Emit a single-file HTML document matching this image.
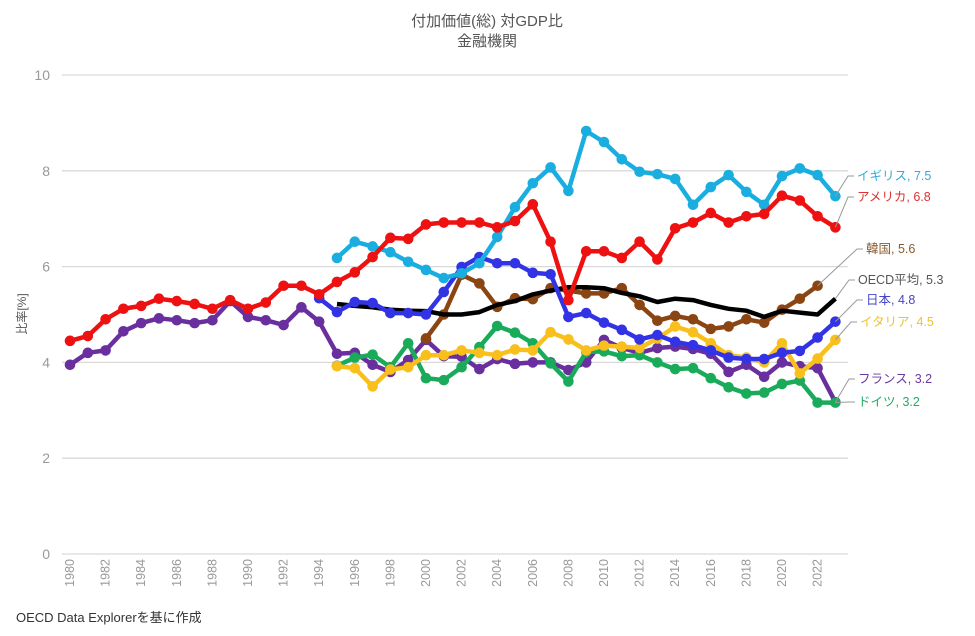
<!DOCTYPE html>
<html><head><meta charset="utf-8"><style>
body{margin:0;background:#fff;}
svg{display:block;font-family:"Liberation Sans","Noto Sans CJK JP",sans-serif;}
</style></head><body>
<svg id="c" width="975" height="636" viewBox="0 0 975 636" xmlns="http://www.w3.org/2000/svg">
<text x="487" y="26" text-anchor="middle" font-size="15" fill="#555">付加価値(総) 対GDP比</text>
<text x="487" y="46" text-anchor="middle" font-size="15" fill="#555">金融機関</text>
<text x="26" y="314" text-anchor="middle" font-size="12" fill="#555" transform="rotate(-90 26 314)">比率[%]</text>
<text x="16" y="622" font-size="13" fill="#333">OECD Data Explorerを基に作成</text>
<g id="g"></g>
</svg>
<script>
var NS="http://www.w3.org/2000/svg",g=document.getElementById('g');
function X(y){return 70+(y-1980)*17.8}
function Y(v){return 554-v*47.9}
function el(t,a,txt){var e=document.createElementNS(NS,t);for(var k in a)e.setAttribute(k,a[k]);if(txt)e.textContent=txt;g.appendChild(e);return e}
for(var i=0;i<=5;i++){var yy=Y(i*2);el('line',{x1:62,x2:848,y1:yy,y2:yy,stroke:'#d9d9d9','stroke-width':1.3});el('text',{x:50,y:yy+5,'text-anchor':'end','font-size':14,fill:'#999'},String(i*2));}
for(var y=1980;y<=2022;y+=2){var x=X(y)+4;el('text',{x:0,y:0,'font-size':12.5,fill:'#999','text-anchor':'end',transform:'translate('+x+',559) rotate(-90)'},String(y));}
var S=[
['#6a2f9e',1980,[3.95,4.2,4.25,4.65,4.82,4.92,4.88,4.82,4.88,5.28,4.95,4.88,4.78,5.15,4.85,4.18,4.2,3.95,3.8,4.05,4.47,4.13,4.12,3.86,4.07,3.97,4.0,4.0,3.84,4.0,4.47,4.3,4.2,4.3,4.33,4.28,4.18,3.8,3.95,3.7,4.0,3.92,3.88,3.17],1],
['#1aab5a',1995,[3.93,4.1,4.16,3.9,4.4,3.67,3.63,3.9,4.32,4.76,4.62,4.4,3.98,3.6,4.22,4.23,4.13,4.15,4.0,3.86,3.88,3.67,3.48,3.35,3.37,3.55,3.62,3.16,3.16],1],
['#f9bf1c',1995,[3.92,3.88,3.5,3.85,3.9,4.15,4.15,4.25,4.2,4.15,4.27,4.25,4.63,4.48,4.25,4.35,4.33,4.3,4.5,4.75,4.63,4.4,4.15,4.1,4.0,4.4,3.77,4.08,4.47],1],
['#8b4513',2000,[4.5,5.0,5.83,5.65,5.16,5.34,5.32,5.55,5.5,5.44,5.44,5.55,5.2,4.87,4.97,4.9,4.7,4.75,4.9,4.83,5.1,5.33,5.6],1],
['#000',1995,[5.22,5.18,5.15,5.1,5.08,5.07,5.0,5.0,5.05,5.2,5.28,5.42,5.5,5.57,5.57,5.55,5.45,5.38,5.26,5.33,5.3,5.2,5.12,5.08,4.95,5.08,5.04,5.0,5.33],0],
['#3333e6',1994,[5.34,5.05,5.26,5.24,5.03,5.03,5.0,5.47,5.99,6.2,6.07,6.07,5.87,5.84,4.95,5.03,4.83,4.68,4.48,4.57,4.43,4.36,4.25,4.1,4.07,4.07,4.2,4.24,4.52,4.85],1],
['#1aaee0',1995,[6.18,6.52,6.42,6.3,6.1,5.93,5.76,5.86,6.07,6.62,7.24,7.74,8.07,7.58,8.83,8.6,8.24,7.98,7.93,7.83,7.29,7.66,7.91,7.56,7.29,7.89,8.05,7.91,7.47],1],
['#ee1111',1980,[4.45,4.55,4.9,5.12,5.18,5.33,5.28,5.22,5.12,5.3,5.12,5.25,5.6,5.6,5.42,5.68,5.88,6.2,6.6,6.58,6.88,6.92,6.92,6.92,6.82,6.95,7.3,6.52,5.3,6.32,6.32,6.18,6.52,6.15,6.8,6.92,7.12,6.92,7.05,7.1,7.48,7.38,7.05,6.82],1]
];
S.forEach(function(s){var p=s[2].map(function(v,i){return X(s[1]+i).toFixed(1)+','+Y(v).toFixed(1)}).join(' ');
el('polyline',{points:p,fill:'none',stroke:s[0],'stroke-width':4.5,'stroke-linejoin':'round'});
if(s[3])s[2].forEach(function(v,i){el('circle',{cx:X(s[1]+i),cy:Y(v),r:5.3,fill:s[0]})});});
var L=[['イギリス, 7.5','#3aa8d8',2023,7.47,857,180],['アメリカ, 6.8','#dd3333',2023,6.82,857,201],['韓国, 5.6','#8b5a2b',2022,5.6,866,253],['OECD平均, 5.3','#555',2023,5.33,858,284],['日本, 4.8','#4444cc',2023,4.85,866,304],['イタリア, 4.5','#f2c030',2023,4.47,860,326],['フランス, 3.2','#6a3a9e',2023,3.17,858,383],['ドイツ, 3.2','#22aa66',2023,3.16,858,406]];
L.forEach(function(l){var x0=X(l[2]),y0=Y(l[3]),lx=l[4]-3,ly=l[5]-4;
el('polyline',{points:x0+','+y0+' '+(lx-6)+','+ly+' '+lx+','+ly,fill:'none',stroke:'#999','stroke-width':1});
el('text',{x:l[4],y:l[5],'font-size':12.5,fill:l[1]},l[0]);});
</script>
</body></html>
